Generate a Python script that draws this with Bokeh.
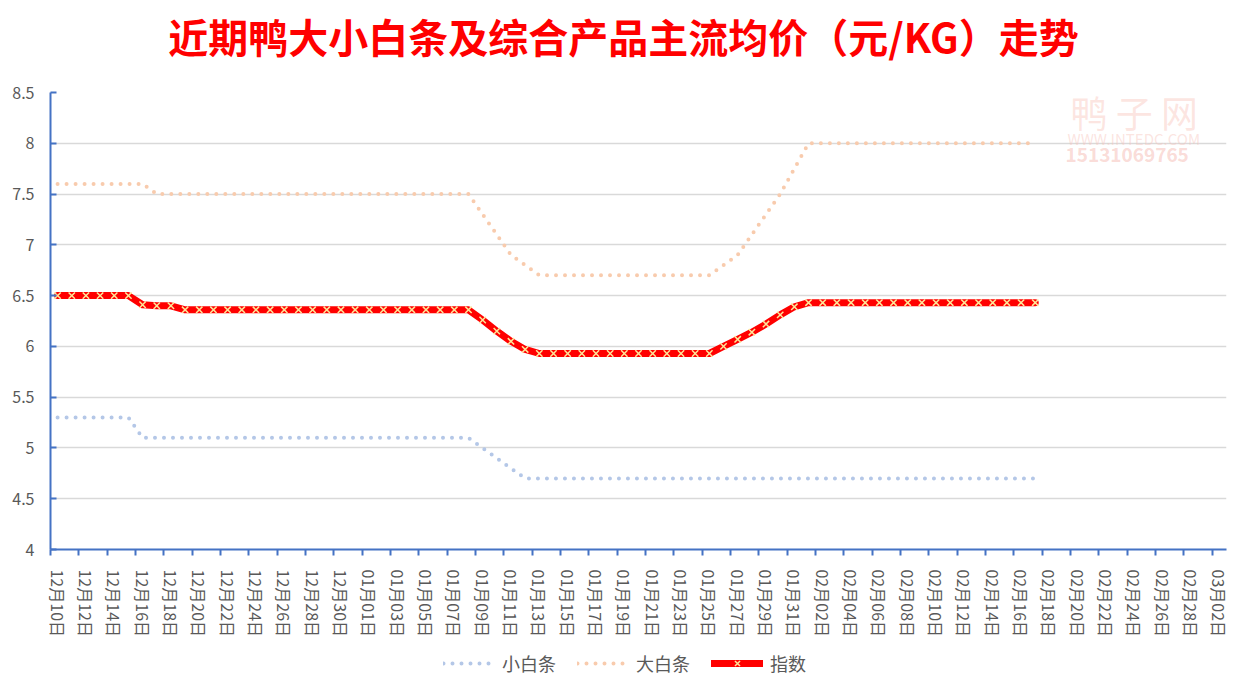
import numpy as np
from bokeh.plotting import figure
from bokeh.layouts import column
from bokeh.models import Range1d, FixedTicker, Legend, LegendItem, Label
from bokeh.embed import file_html
from bokeh.resources import INLINE

dates = [
    "12月10日", "12月11日", "12月12日", "12月13日", "12月14日", "12月15日", "12月16日",
    "12月17日", "12月18日", "12月19日", "12月20日", "12月21日", "12月22日", "12月23日",
    "12月24日", "12月25日", "12月26日", "12月27日", "12月28日", "12月29日", "12月30日",
    "12月31日", "01月01日", "01月02日", "01月03日", "01月04日", "01月05日", "01月06日",
    "01月07日", "01月08日", "01月09日", "01月10日", "01月11日", "01月12日", "01月13日",
    "01月14日", "01月15日", "01月16日", "01月17日", "01月18日", "01月19日", "01月20日",
    "01月21日", "01月22日", "01月23日", "01月24日", "01月25日", "01月26日", "01月27日",
    "01月28日", "01月29日", "01月30日", "01月31日", "02月01日", "02月02日", "02月03日",
    "02月04日", "02月05日", "02月06日", "02月07日", "02月08日", "02月09日", "02月10日",
    "02月11日", "02月12日", "02月13日", "02月14日", "02月15日", "02月16日", "02月17日",
    "02月18日", "02月19日", "02月20日", "02月21日", "02月22日", "02月23日", "02月24日",
    "02月25日", "02月26日", "02月27日", "02月28日", "03月01日", "03月02日",
]

small_white = [
    5.3, 5.3, 5.3, 5.3, 5.3, 5.3, 5.1, 5.1, 5.1, 5.1,
    5.1, 5.1, 5.1, 5.1, 5.1, 5.1, 5.1, 5.1, 5.1, 5.1,
    5.1, 5.1, 5.1, 5.1, 5.1, 5.1, 5.1, 5.1, 5.1, 5.1,
    5.0, 4.9, 4.8, 4.7, 4.7, 4.7, 4.7, 4.7, 4.7, 4.7,
    4.7, 4.7, 4.7, 4.7, 4.7, 4.7, 4.7, 4.7, 4.7, 4.7,
    4.7, 4.7, 4.7, 4.7, 4.7, 4.7, 4.7, 4.7, 4.7, 4.7,
    4.7, 4.7, 4.7, 4.7, 4.7, 4.7, 4.7, 4.7, 4.7, 4.7,
]

big_white = [
    7.6, 7.6, 7.6, 7.6, 7.6, 7.6, 7.6, 7.5, 7.5, 7.5,
    7.5, 7.5, 7.5, 7.5, 7.5, 7.5, 7.5, 7.5, 7.5, 7.5,
    7.5, 7.5, 7.5, 7.5, 7.5, 7.5, 7.5, 7.5, 7.5, 7.5,
    7.3, 7.1, 6.9, 6.8, 6.7, 6.7, 6.7, 6.7, 6.7, 6.7,
    6.7, 6.7, 6.7, 6.7, 6.7, 6.7, 6.7, 6.8, 6.9, 7.1,
    7.3, 7.5, 7.75, 8.0, 8.0, 8.0, 8.0, 8.0, 8.0, 8.0,
    8.0, 8.0, 8.0, 8.0, 8.0, 8.0, 8.0, 8.0, 8.0, 8.0,
]

index_vals = [
    6.5, 6.5, 6.5, 6.5, 6.5, 6.5, 6.41, 6.40, 6.40, 6.36,
    6.36, 6.36, 6.36, 6.36, 6.36, 6.36, 6.36, 6.36, 6.36, 6.36,
    6.36, 6.36, 6.36, 6.36, 6.36, 6.36, 6.36, 6.36, 6.36, 6.36,
    6.26, 6.15, 6.05, 5.97, 5.93, 5.93, 5.93, 5.93, 5.93, 5.93,
    5.93, 5.93, 5.93, 5.93, 5.93, 5.93, 5.93, 6.00, 6.07, 6.14,
    6.22, 6.31, 6.39, 6.43, 6.43, 6.43, 6.43, 6.43, 6.43, 6.43,
    6.43, 6.43, 6.43, 6.43, 6.43, 6.43, 6.43, 6.43, 6.43, 6.43,
]

y_ticks = [4, 4.5, 5, 5.5, 6, 6.5, 7, 7.5, 8, 8.5]
y_tick_labels = ["4", "4.5", "5", "5.5", "6", "6.5", "7", "7.5", "8", "8.5"]

series_names = ["小白条", "大白条", "指数"]
title_text = "近期鸭大小白条及综合产品主流均价（元/KG）走势"

FONT = "Noto Sans CJK SC"
GRAY = "#595959"
AXIS_BLUE = "#4472C4"
C_SMALL = "#B4C7E7"
C_BIG = "#F8CBAD"
C_IDX = "#FF0000"
C_MARK = "#FFE699"

W = 1230
n_cat = len(dates)


def strip(height):
    f = figure(
        width=W, height=height, output_backend="svg", toolbar_location=None,
        x_range=Range1d(0, 1), y_range=Range1d(0, 1),
        x_axis_location=None, y_axis_location=None,
        min_border=0, min_border_left=0, min_border_right=0,
        min_border_top=0, min_border_bottom=0,
        background_fill_color="white", border_fill_color="white",
    )
    f.outline_line_color = None
    f.xgrid.grid_line_color = None
    f.ygrid.grid_line_color = None
    return f


# ---- Title strip (its frame is aligned with the chart frame, left = 50) ----
tf = strip(78)
tf.add_layout(Label(x=573, y=43, x_units="screen", y_units="screen", text=title_text,
                    text_font=FONT, text_font_size="40px", text_font_style="bold",
                    text_color=C_IDX, text_align="center", text_baseline="middle"))

# ---- Main chart ----
p = figure(
    width=W, height=562,
    output_backend="svg", toolbar_location=None,
    x_range=Range1d(0, n_cat), y_range=Range1d(y_ticks[0], y_ticks[-1]),
    min_border_left=50, min_border_right=4, min_border_top=14, min_border_bottom=89,
    background_fill_color="white", border_fill_color="white",
)
p.outline_line_color = None
p.xgrid.grid_line_color = None
p.ygrid.grid_line_color = "#D9D9D9"
p.ygrid.grid_line_width = 1.3

lab_idx = list(range(0, n_cat, 2))
centers = [i + 0.5 for i in lab_idx]
bounds = [float(i) for i in lab_idx]
xa = p.xaxis[0]
xa.ticker = FixedTicker(ticks=centers, minor_ticks=bounds)
xa.major_label_overrides = {c: dates[i] for c, i in zip(centers, lab_idx)}
xa.major_label_orientation = "vertical"
xa.major_label_text_font = FONT
xa.major_label_text_font_size = "16px"
xa.major_label_text_color = GRAY
xa.major_label_standoff = 14
xa.major_tick_line_color = None
xa.major_tick_in = 0
xa.major_tick_out = 0
xa.minor_tick_in = 0
xa.minor_tick_out = 6
xa.minor_tick_line_color = AXIS_BLUE
xa.minor_tick_line_width = 2
xa.axis_line_color = AXIS_BLUE
xa.axis_line_width = 2

ya = p.yaxis[0]
ya.ticker = FixedTicker(ticks=y_ticks)
ya.major_label_overrides = {t: s for t, s in zip(y_ticks, y_tick_labels)}
ya.major_label_text_font = FONT
ya.major_label_text_font_size = "16px"
ya.major_label_text_color = GRAY
ya.major_label_standoff = 16
ya.major_tick_in = 6
ya.major_tick_out = 0
ya.major_tick_line_color = AXIS_BLUE
ya.major_tick_line_width = 2
ya.minor_tick_line_color = None
ya.axis_line_color = AXIS_BLUE
ya.axis_line_width = 2

x_small = np.arange(len(small_white)) + 0.5
x_big = np.arange(len(big_white)) + 0.5
x_idx = np.arange(len(index_vals)) + 0.5

p.line(x_small, small_white, line_color=C_SMALL, line_width=4,
       line_dash="0 9", line_cap="round", line_join="round")
p.line(x_big, big_white, line_color=C_BIG, line_width=4,
       line_dash="0 9", line_cap="round", line_join="round")
p.line(x_idx, index_vals, line_color=C_IDX, line_width=7,
       line_cap="round", line_join="round")
p.scatter(x_idx, index_vals, marker="x", size=9, line_color=C_MARK, line_width=1.5)

# Watermark (faint)
for txt, xx, yy, sz, col, alpha, style in [
    ("鸭 子 网", 1020, 438, "37px", "#F7B5A8", 0.35, "normal"),
    ("WWW.INTEDC.COM", 1017, 411, "15px", "#F7C4BC", 0.45, "normal"),
    ("15131069765", 1015, 395, "19px", "#F2A59A", 0.4, "bold"),
]:
    p.add_layout(Label(x=xx, y=yy, x_units="screen", y_units="screen", text=txt,
                       text_font=FONT, text_font_size=sz, text_color=col,
                       text_alpha=alpha, text_font_style=style,
                       text_baseline="middle", text_align="left"))

# ---- Legend strip ----
lf = strip(37)
hidden_x = [5, 6]
hidden_y = [5, 6]
l_small = lf.line(hidden_x, hidden_y, line_color=C_SMALL, line_width=4,
                  line_dash="0 9", line_cap="round")
l_big = lf.line(hidden_x, hidden_y, line_color=C_BIG, line_width=4,
                line_dash="0 9", line_cap="round")
l_idx = lf.line(hidden_x, hidden_y, line_color=C_IDX, line_width=7, line_cap="round")
l_mark = lf.scatter(hidden_x, hidden_y, marker="x", size=9, line_color=C_MARK,
                    line_width=1.5)

legend = Legend(
    items=[
        LegendItem(label=series_names[0], renderers=[l_small]),
        LegendItem(label=series_names[1], renderers=[l_big]),
        LegendItem(label=series_names[2], renderers=[l_idx, l_mark]),
    ],
    orientation="horizontal", location=(393, 1.5),
    label_text_font=FONT, label_text_font_size="18px", label_text_color=GRAY,
    glyph_width=52, glyph_height=18, label_standoff=7, spacing=21,
    border_line_color=None, background_fill_alpha=0, padding=2, margin=0,
)
lf.add_layout(legend)

open("out.html", "w").write(file_html(column(tf, p, lf, spacing=0), INLINE))
